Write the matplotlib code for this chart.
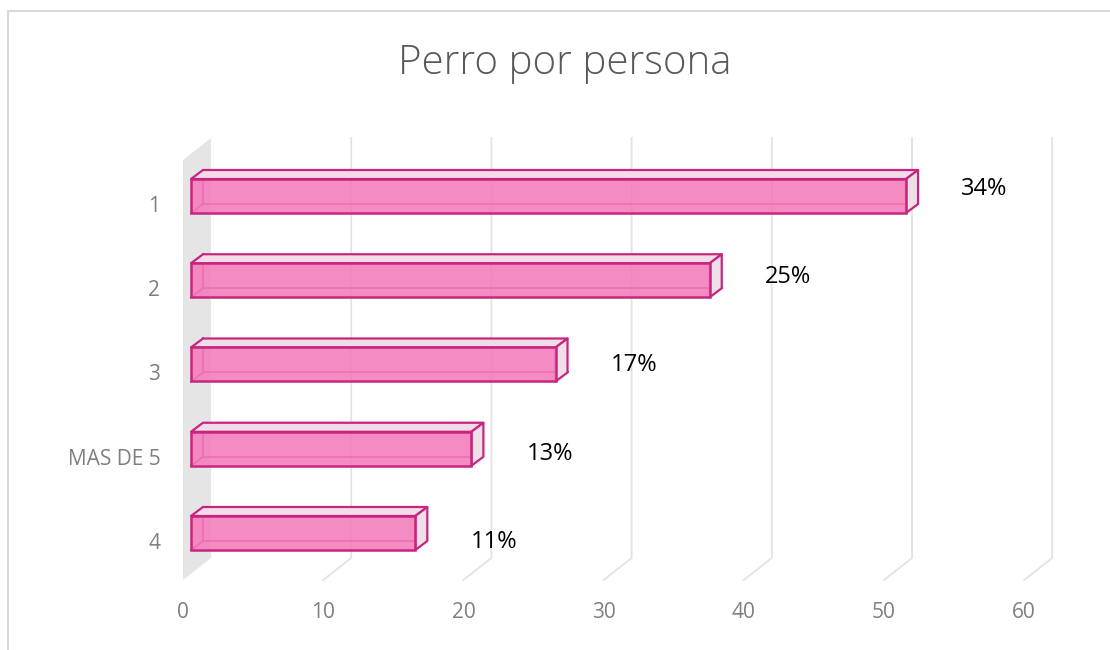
import matplotlib
matplotlib.use("Agg")
import matplotlib.pyplot as plt
from matplotlib.patches import Polygon, Rectangle
from matplotlib.colors import to_rgba
import numpy as np

# ---- data ----
title = "Perro por persona"
categories = ["1", "2", "3", "MAS DE 5", "4"]
values = [51, 37, 26, 20, 16]
pct_labels = ["34%", "25%", "17%", "13%", "11%"]
x_ticks = [0, 10, 20, 30, 40, 50, 60]

# ---- style ----
FRONT = to_rgba("#F47BBB", 0.88)
EDGE = "#C7267F"
TOP = "#F3DCEA"
END = "#EEDFE8"
WALL = "#E5E5E5"
GRID = "#E3E3E3"
TXT = "#7F7F7F"
FONT = ["Open Sans", "DejaVu Sans"]

W, H = 1110, 650
fig = plt.figure(figsize=(W / 100, H / 100), dpi=100)
fig.patch.set_facecolor("white")

# axes box in pixels
L, R, T, B = 170, 1070, 130, 585
ax = fig.add_axes([L / W, (H - B) / H, (R - L) / W, (B - T) / H])
PX_PER_V = 14.02
PX_PER_I = 84.25
X0 = 191
Y0 = 196
ax.set_xlim((L - X0) / PX_PER_V, (R - X0) / PX_PER_V)
ax.set_ylim((B - Y0) / PX_PER_I, (T - Y0) / PX_PER_I)
for s in ax.spines.values():
    s.set_visible(False)
ax.set_facecolor("none")

# 3D depth parameters (data units)
front_off_x = -8 / PX_PER_V          # floor front relative to bar front plane
depth_x = 28 / PX_PER_V
depth_y = -22 / PX_PER_I
floor_front_y = (580 - Y0) / PX_PER_I
wall_top_y = (160 - Y0) / PX_PER_I
bar_dx = 12 / PX_PER_V
bar_dy = -9 / PX_PER_I
bar_h = 34 / PX_PER_I

# side wall
wx0 = front_off_x
wx1 = front_off_x + depth_x
ax.add_patch(Polygon([(wx0, floor_front_y), (wx1, floor_front_y + depth_y),
                      (wx1, wall_top_y + depth_y), (wx0, wall_top_y)],
                     closed=True, facecolor=WALL, edgecolor="none", zorder=1))

# gridlines (floor + back)
for v in x_ticks[1:]:
    xf = v + front_off_x
    xb = xf + depth_x
    ax.plot([xf, xb, xb], [floor_front_y, floor_front_y + depth_y, wall_top_y + depth_y],
            color=GRID, lw=1.3, zorder=1, solid_joinstyle="miter")

pos = np.arange(len(categories))

# bars
for i, v in zip(pos, values):
    yt = i - bar_h / 2
    yb = i + bar_h / 2
    # hidden back edges
    ax.plot([bar_dx, bar_dx, v + bar_dx], [yt + bar_dy, yb + bar_dy, yb + bar_dy],
            color=EDGE, lw=1.3, zorder=2)
    ax.plot([0, bar_dx], [yb, yb + bar_dy], color=EDGE, lw=1.3, zorder=2)
    # top face
    ax.add_patch(Polygon([(0, yt), (bar_dx, yt + bar_dy), (v + bar_dx, yt + bar_dy), (v, yt)],
                         closed=True, facecolor=TOP, edgecolor=EDGE, lw=1.6, zorder=3,
                         joinstyle="round"))
    # end face
    ax.add_patch(Polygon([(v, yt), (v + bar_dx, yt + bar_dy), (v + bar_dx, yb + bar_dy), (v, yb)],
                         closed=True, facecolor=END, edgecolor=EDGE, lw=1.6, zorder=3,
                         joinstyle="round"))

ax.barh(pos, values, height=bar_h, left=0, facecolor=FRONT,
        edgecolor=EDGE, linewidth=1.8, zorder=4)

# value labels
for i, v, lab in zip(pos, values, pct_labels):
    ax.text(v + 5.6, i + (-7 + 4 * i) / PX_PER_I, lab, ha="center", va="center",
            fontsize=17, color="black", family=FONT, zorder=5)

# ticks
ax.set_xticks([t + front_off_x for t in x_ticks])
ax.set_xticklabels([str(t) for t in x_ticks])
ax.set_yticks(pos + 8 / PX_PER_I)
ax.set_yticklabels(categories)
ax.tick_params(axis="x", length=0, pad=12, labelsize=15, labelcolor=TXT)
ax.tick_params(axis="y", length=0, pad=7, labelsize=15, labelcolor=TXT)
for lab in ax.get_xticklabels() + ax.get_yticklabels():
    lab.set_family(FONT)

# title
fig.text(565 / W, 1 - 63 / H, title, ha="center", va="center", fontsize=29,
         color="#595959", family=FONT, fontweight="light")

# chart border
fig.patches.append(Rectangle((8 / W, -0.1), 1.2, 1 - 11 / H + 0.1, transform=fig.transFigure,
                             fill=False, edgecolor="#D9D9D9", lw=1.5))

fig.savefig("out.png", dpi=100)
